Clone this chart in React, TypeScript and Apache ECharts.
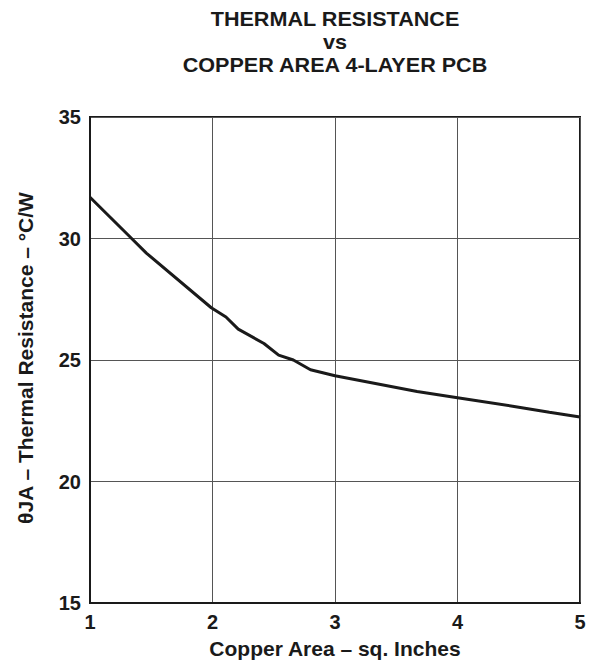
import React, { useEffect, useRef } from "react";
import * as echarts from "echarts";

const titleLines = ["THERMAL RESISTANCE", "vs", "COPPER AREA 4-LAYER PCB"];
const xAxisName = "Copper Area – sq. Inches";
const yAxisName = "θJA – Thermal Resistance – °C/W";
const copperArea = [1, 1.34, 1.46, 1.99, 2.11, 2.21, 2.42, 2.54, 2.66, 2.8, 3.0, 3.67, 4.0, 4.45, 4.75, 5];
const thetaJA = [31.7, 30.0, 29.4, 27.15, 26.77, 26.27, 25.68, 25.2, 25.0, 24.6, 24.35, 23.7, 23.45, 23.1, 22.85, 22.65];

export default function App() {
  const ref = useRef<HTMLDivElement>(null);
  useEffect(() => {
    if (!ref.current) return;
    const chart = echarts.init(ref.current, null, { renderer: "svg" });
    const font = "'Liberation Sans', Arial, sans-serif";
    const ink = "#1a1a1a";
    chart.setOption({
      animation: false,
      backgroundColor: "#fff",
      graphic: [
        ...titleLines.map((t, i) => ({
          type: "text",
          x: 335,
          y: 19 + i * 23,
          scaleX: 1.08,
          style: {
            text: t,
            fill: ink,
            font: `bold 20px ${font}`,
            textAlign: "center",
            textVerticalAlign: "middle",
          },
        })),
        {
          type: "text",
          x: 25,
          y: 358,
          rotation: Math.PI / 2,
          style: {
            text: yAxisName,
            fill: ink,
            font: `bold 21px ${font}`,
            textAlign: "center",
            textVerticalAlign: "middle",
          },
        },
      ],
      grid: {
        left: 90,
        right: 10,
        top: 117,
        bottom: 60,
        show: true,
        borderColor: ink,
        borderWidth: 2,
        backgroundColor: "transparent",
      },
      xAxis: {
        type: "value",
        min: 1,
        max: 5,
        interval: 1,
        name: xAxisName,
        nameLocation: "middle",
        nameGap: 35,
        nameTextStyle: { fontFamily: font, fontWeight: "bold", fontSize: 21, color: ink },
        axisLine: { show: true, lineStyle: { color: ink, width: 2 } },
        axisTick: { show: false },
        axisLabel: { fontFamily: font, fontWeight: "bold", fontSize: 20, color: ink, margin: 9 },
        splitLine: { show: true, lineStyle: { color: "#555", width: 1 } },
      },
      yAxis: {
        type: "value",
        min: 15,
        max: 35,
        interval: 5,
        axisLine: { show: true, lineStyle: { color: ink, width: 2 } },
        axisTick: { show: false },
        axisLabel: { fontFamily: font, fontWeight: "bold", fontSize: 20, color: ink, margin: 9 },
        splitLine: { show: true, lineStyle: { color: "#555", width: 1 } },
      },
      series: [
        {
          type: "line",
          data: copperArea.map((x, i) => [x, thetaJA[i]]),
          showSymbol: false,
          lineStyle: { color: ink, width: 3 },
        },
      ],
    });
    return () => chart.dispose();
  }, []);
  return (
    <div
      ref={ref}
      style={{ position: "fixed", left: 0, top: 0, width: 590, height: 664 }}
    />
  );
}
